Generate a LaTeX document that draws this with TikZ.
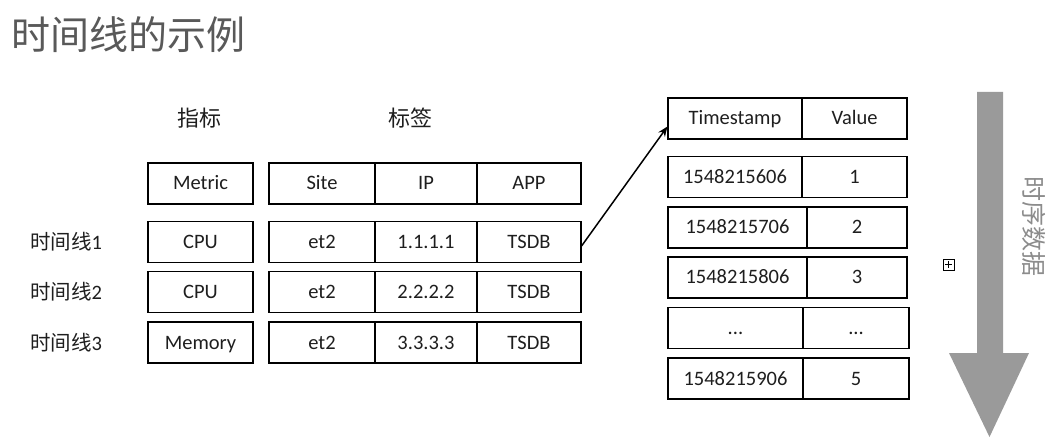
\documentclass[tikz,border=0pt]{standalone}
\usepackage{fontspec}
\setmainfont{Carlito}
\newfontfamily\cjk{Noto Sans CJK SC}
\usetikzlibrary{calc,arrows.meta}
\definecolor{titlegray}{HTML}{595959}
\definecolor{ink}{HTML}{1E1E1E}
\definecolor{flowgray}{HTML}{9A9A9A}
\definecolor{vtext}{HTML}{8C8C8C}
\begin{document}
\begin{tikzpicture}[x=1pt,y=-1pt,
  cell/.style={draw=black, line width=1.1pt, minimum height=41pt, inner sep=0pt, text height=16pt, text depth=3pt, text=ink, font=\fontsize{20.5}{22}\selectfont},
  rowlabel/.style={anchor=center, text=ink, font=\fontsize{20.5}{22}\selectfont},
  headlabel/.style={anchor=center, text=ink, font=\cjk\fontsize{22}{24}\selectfont}]
\useasboundingbox (0,0) rectangle (1059,443);
% title
\node[anchor=west, inner sep=0pt, text=titlegray, font=\cjk\fontsize{39}{42}\selectfont] (title) at (11,35) {时间线的示例};
% headings
\node[headlabel] (hmetric) at (199,118) {指标};
\node[headlabel] (htag) at (410,118) {标签};
% left table header
\node[cell, minimum width=105pt] (metric) at (200.5,183.5) {Metric};
\node[cell, minimum width=106pt] (site) at (322,183.5) {Site};
\node[cell, minimum width=102pt] (ip) at (426,183.5) {IP};
\node[cell, minimum width=104pt] (app) at (529,183.5) {APP};
% rows
\foreach \r/\y/\m/\ipv in {1/242/CPU/1.1.1.1, 2/292/CPU/2.2.2.2, 3/342.5/Memory/3.3.3.3}{
  \node[rowlabel] (lab\r) at (66,\y) {{\cjk 时间线}\r};
  \node[cell, minimum width=105pt] (metric\r) at (200.5,\y) {\m};
  \node[cell, minimum width=106pt] (site\r) at (322,\y) {et2};
  \node[cell, minimum width=102pt] (ip\r) at (426,\y) {\ipv};
  \node[cell, minimum width=104pt] (app\r) at (529,\y) {TSDB};
}
% right table
\node[cell, minimum width=134pt] (ts) at (735,118.5) {Timestamp};
\node[cell, minimum width=105pt] (val) at (854.5,118.5) {Value};
\node[cell, minimum width=134pt] (ts1) at (735,177) {1548215606};
\node[cell, minimum width=105pt] (v1) at (854.5,177) {1};
\node[cell, minimum width=139pt] (ts2) at (737.5,227.5) {1548215706};
\node[cell, minimum width=100pt] (v2) at (857,227.5) {2};
\node[cell, minimum width=139pt] (ts3) at (737.5,277.5) {1548215806};
\node[cell, minimum width=100pt] (v3) at (857,277.5) {3};
\node[cell, minimum width=135pt] (ts4) at (735.5,328) {...};
\node[cell, minimum width=106pt] (v4) at (856,328) {...};
\node[cell, minimum width=135pt] (ts5) at (735.5,378.5) {1548215906};
\node[cell, minimum width=106pt] (v5) at (856,378.5) {5};
% connector
\coordinate (from) at ($(app1.east)+(0,4)$);
\coordinate (to) at ($(ts.west)+(0,8)$);
\draw[line width=1.5pt, -{Stealth[length=10pt,width=8pt]}] (from) -- (to);
% big gray arrow
\fill[flowgray] (977,92) -- (1003,92) -- (1003,353) -- (1029,353) -- (989.5,437) -- (949,353) -- (977,353) -- cycle;
\node[rotate=-90, text=vtext, font=\cjk\fontsize{25}{27}\selectfont, inner sep=0pt] (vlabel) at (1034,227) {时序数据};
% small expand icon
\node[draw=black, line width=0.7pt, minimum size=11pt, inner sep=0pt] (icon) at (948.5,264.5) {};
\draw[line width=0.7pt] ($(icon.west)+(2.5,0)$) -- ($(icon.east)+(-2.5,0)$);
\draw[line width=0.7pt] ($(icon.north)+(0,2.5)$) -- ($(icon.south)+(0,-2.5)$);
\end{tikzpicture}
\end{document}
